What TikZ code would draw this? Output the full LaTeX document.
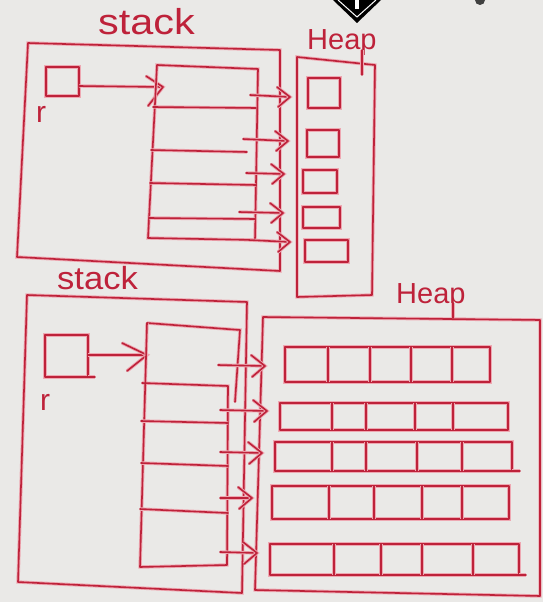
\documentclass[tikz,border=0pt]{standalone}
\usepackage{fontspec}
\setmainfont{Liberation Sans}
\definecolor{paper}{RGB}{234,233,231}
\definecolor{ink}{RGB}{190,34,58}
\definecolor{glow}{RGB}{238,168,178}
\begin{document}
\begin{tikzpicture}[x=1pt,y=-1pt,
  pen/.style={draw=ink,line width=1.6pt,line cap=round,line join=round,
              preaction={draw=glow,line width=3.4pt}},
  lbl/.style={text=ink,inner sep=0pt,anchor=base west}]
\fill[paper] (0,0) rectangle (543,602);
\useasboundingbox (0,0) rectangle (543,602);
% watermark
\fill[black] (333,0) -- (357,23) -- (381,0) -- cycle;
\draw[white,line width=1pt] (338,0) -- (357,17) -- (376,0);
\fill[white] (355,0) rectangle (359,9);
\fill[black!75] (480,0) circle (5pt);

% ===== upper picture =====
\node[lbl] (stackA) at (98,35) {\scalebox{1.15}[1]{\fontsize{36}{36}\selectfont stack}};
\draw[pen] (28,43) -- (280,50) -- (280,271) -- (17,257) -- cycle;
\draw[pen] (46,67) rectangle (79,96);
\node[lbl] (rA) at (36,122) {\fontsize{30}{30}\selectfont r};
\coordinate (rAo) at (79,86);
\coordinate (inA) at (163,87);
\draw[pen] (rAo) -- (inA);
\draw[pen] (146,76) -- (inA) -- (148,106);
% inner array
\draw[pen] (157,65) -- (258,69) -- (255,240) -- (148,238) -- cycle;
\draw[pen] (153,107) -- (256,108);
\draw[pen] (151,150) -- (247,152);
\draw[pen] (150,183) -- (256,185);
\draw[pen] (149,218) -- (255,219);
% heap
\node[lbl] (heapA) at (307,50) {\fontsize{29}{29}\selectfont Heap};
\draw[pen] (297,57) -- (375,65) -- (372,295) -- (297,297) -- cycle;
\draw[pen] (362,50) -- (362,75);
\draw[pen] (308,78) rectangle (340,108);
\draw[pen] (307,130) rectangle (339,157);
\draw[pen] (303,170) rectangle (337,193);
\draw[pen] (303,207) rectangle (340,228);
\draw[pen] (305,240) rectangle (348,262);
% pointers
\foreach \i/\xs/\ys/\xe/\ye in {1/250/95/290/97, 2/243/139/288/141, 3/246/173/284/174, 4/239/212/283/213, 5/249/240/290/242}{
  \coordinate (pA\i) at (\xs,\ys);
  \coordinate (hA\i) at (\xe,\ye);
  \draw[pen] (pA\i) -- (hA\i);
  \draw[pen] ([shift={(-13,-10)}]hA\i) -- (hA\i) -- ([shift={(-12,10)}]hA\i);
}

% ===== lower picture =====
\node[lbl] (stackB) at (57,289) {\scalebox{1.08}[1]{\fontsize{32}{32}\selectfont stack}};
\draw[pen] (27,295) -- (247,302) -- (242,593) -- (18,582) -- cycle;
\draw[pen] (45,335) -- (88,335) -- (88,377) -- (45,377) -- cycle;
\draw[pen] (88,377) -- (95,377);
\node[lbl] (rB) at (40,410) {\fontsize{30}{30}\selectfont r};
\coordinate (rBo) at (88,355);
\coordinate (inB) at (147,355);
\draw[pen] (rBo) -- (inB);
\draw[pen] (122,343) -- (inB) -- (127,371);
% inner array
\draw[pen] (147,323) -- (240,330) -- (235,402);
\draw[pen] (147,323) -- (140,567) -- (227,565) -- (228,386) -- (142,383);
\draw[pen] (141,421) -- (228,423);
\draw[pen] (141,463) -- (228,466);
\draw[pen] (140,509) -- (228,513);
% heap
\node[lbl] (heapB) at (396,303) {\fontsize{29}{29}\selectfont Heap};
\draw[pen] (263,317) -- (540,320) -- (540,596) -- (255,590) -- cycle;
\draw[pen] (453,303) -- (453,318);
% rows of the 2-D array
\draw[pen] (285,347) rectangle (490,382);
\foreach \x in {328,370,411,452} \draw[pen] (\x,347) -- (\x,382);
\draw[pen] (280,403) rectangle (508,430);
\foreach \x in {332,366,415,453} \draw[pen] (\x,403) -- (\x,430);
\draw[pen] (275,442) rectangle (512,471);
\draw[pen] (512,471) -- (520,471);
\foreach \x in {332,366,417,462} \draw[pen] (\x,442) -- (\x,471);
\draw[pen] (272,486) rectangle (509,519);
\foreach \x in {329,374,422,462} \draw[pen] (\x,486) -- (\x,519);
\draw[pen] (270,544) rectangle (519,575);
\draw[pen] (519,575) -- (526,575);
\foreach \x in {334,381,422,473} \draw[pen] (\x,544) -- (\x,575);
% pointers
\foreach \i/\xs/\ys/\xe/\ye in {1/218/365/265/366, 2/220/410/267/411, 3/220/452/262/453, 4/220/498/252/498, 5/220/552/257/553}{
  \coordinate (pB\i) at (\xs,\ys);
  \coordinate (hB\i) at (\xe,\ye);
  \draw[pen] (pB\i) -- (hB\i);
  \draw[pen] ([shift={(-14,-11)}]hB\i) -- (hB\i) -- ([shift={(-13,11)}]hB\i);
}
\end{tikzpicture}
\end{document}
